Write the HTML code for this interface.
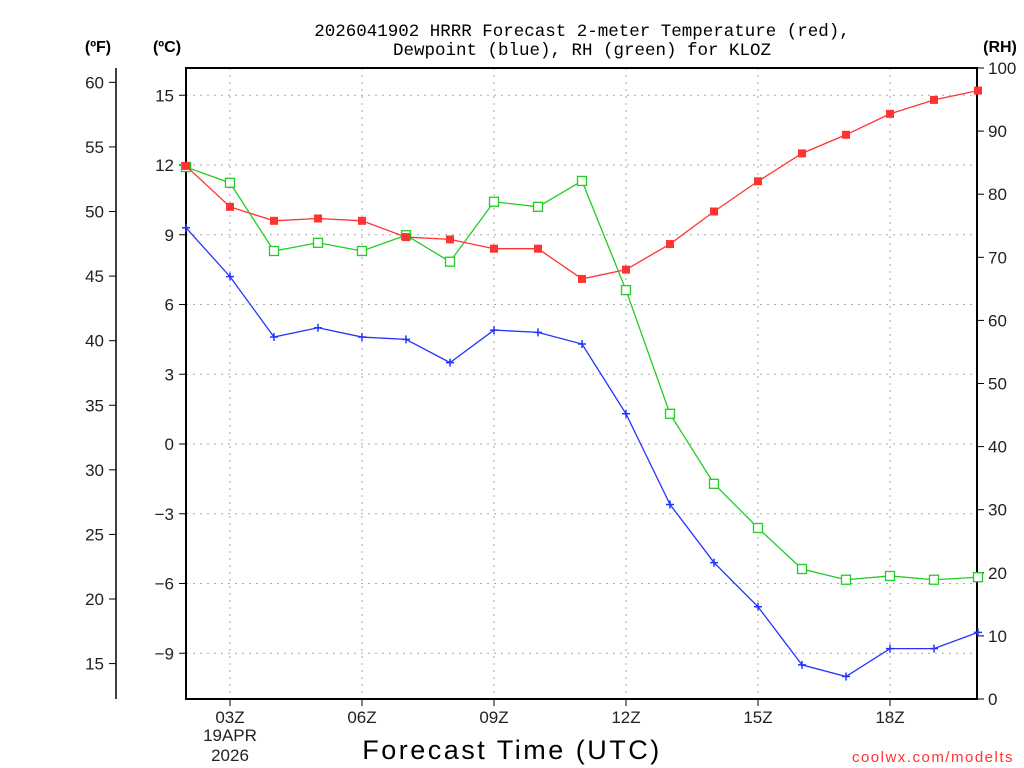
<!DOCTYPE html>
<html><head><meta charset="utf-8">
<style>
html,body{margin:0;padding:0;background:#fff;}
svg{display:block;font-family:"Liberation Sans","DejaVu Sans",sans-serif;}
</style></head>
<body>
<svg id="chart" width="1024" height="768" xmlns="http://www.w3.org/2000/svg">
<text x="582" y="36" font-size="17.5" font-family="Liberation Mono, monospace" text-anchor="middle" fill="#000">2026041902 HRRR Forecast 2-meter Temperature (red),</text>
<text x="582" y="55" font-size="17.5" font-family="Liberation Mono, monospace" text-anchor="middle" fill="#000">Dewpoint (blue), RH (green) for KLOZ</text>
<text x="98" y="52" font-size="16" font-weight="bold" text-anchor="middle">(ºF)</text>
<text x="167" y="52" font-size="16" font-weight="bold" text-anchor="middle">(ºC)</text>
<text x="1000" y="52" font-size="16" font-weight="bold" text-anchor="middle">(RH)</text>
<text x="512" y="759" font-size="27" text-anchor="middle" letter-spacing="2.5">Forecast Time (UTC)</text>
<text x="1014" y="762" font-size="15" text-anchor="end" fill="#ff3333" letter-spacing="1.5">coolwx.com/modelts</text>
<g id="grid"></g><g id="axes"></g><g id="series"></g>
</svg>
<script>
const hours = [2,3,4,5,6,7,8,9,10,11,12,13,14,15,16,17,18,19,20];
const tempC = [11.96,10.2,9.6,9.7,9.6,8.9,8.8,8.4,8.4,7.1,7.5,8.6,10.0,11.3,12.5,13.3,14.2,14.8,15.2];
const dewC = [9.3,7.2,4.6,5.0,4.6,4.5,3.5,4.9,4.8,4.3,1.3,-2.6,-5.1,-7.0,-9.5,-10.0,-8.8,-8.8,-8.1];
const rh = [84.3,81.8,71,72.3,71,73.5,69.3,78.8,78,82.1,64.8,45.2,34.1,27.1,20.6,18.9,19.5,18.9,19.3];
const cTicks = [15,12,9,6,3,0,-3,-6,-9];
const fTicks = [60,55,50,45,40,35,30,25,20,15];
const rhTicks = [100,90,80,70,60,50,40,30,20,10,0];
const xTickHours = [3,6,9,12,15,18];
const xTickLabels = ["03Z","06Z","09Z","12Z","15Z","18Z"];

const L=186,R=977,T=68,B=699;
const xs = h => L + (h-2)*44;
const yC = c => 444 - c*23.25;
const yF = f => yC((f-32)/1.8);
const yRH = r => B - r*(B-T)/100;
const NS="http://www.w3.org/2000/svg";
function mk(parent,tag,attrs){const e=document.createElementNS(NS,tag);for(const k in attrs)e.setAttribute(k,attrs[k]);parent.appendChild(e);return e;}
const grid=document.getElementById('grid'),axes=document.getElementById('axes'),ser=document.getElementById('series');

cTicks.forEach(c=>{
  const y=yC(c);
  const g=mk(grid,'line',{x1:L,x2:R,y1:y,y2:y,stroke:'#aaa','stroke-dasharray':'2,5'});
  
  
  mk(axes,'line',{x1:L-7,x2:L,y1:y,y2:y,stroke:'#000'});
  const t=mk(axes,'text',{x:L-12,y:y+6,'font-size':17,'text-anchor':'end',fill:'#222'});
  t.textContent=c===0?'0':(c<0?'\u2212'+(-c):c);
  
  
});
xTickHours.forEach((h,i)=>{
  const x=xs(h);
  const g=mk(grid,'line',{x1:x,x2:x,y1:T,y2:B,stroke:'#aaa','stroke-dasharray':'2,5'});
  
  
  mk(axes,'line',{x1:x,x2:x,y1:B,y2:B+7,stroke:'#000'});
  const t=mk(axes,'text',{x:x,y:B+24,'font-size':17,'text-anchor':'middle',fill:'#222'});
  t.textContent=xTickLabels[i];
  
  
});
[['19APR',741],['2026',761]].forEach(([s,y])=>{
  const t=mk(axes,'text',{x:xs(3),y:y,'font-size':17,'text-anchor':'middle',fill:'#222'});
  t.textContent=s;
  
  
});
mk(axes,'line',{x1:116,x2:116,y1:T,y2:B,stroke:'#000','stroke-width':1.5});
fTicks.forEach(f=>{
  const y=yF(f);
  mk(axes,'line',{x1:109,x2:116,y1:y,y2:y,stroke:'#000'});
  const t=mk(axes,'text',{x:104,y:y+6,'font-size':17,'text-anchor':'end',fill:'#222'});
  t.textContent=f;
  
  
});
rhTicks.forEach(r=>{
  const y=yRH(r);
  mk(axes,'line',{x1:R,x2:R+7,y1:y,y2:y,stroke:'#000'});
  const t=mk(axes,'text',{x:988,y:y+6,'font-size':17,'text-anchor':'start',fill:'#222'});
  t.textContent=r;
  
  
});
const frame=mk(axes,'rect',{x:L,y:T,width:R-L,height:B-T,fill:'none',stroke:'#000','stroke-width':2});



function series(vals,yf,color,kind,name){
  const pts=vals.map((v,i)=>[xs(hours[i]),yf(v)]);
  const pl=mk(ser,'polyline',{points:pts.map(p=>p.join(',')).join(' '),fill:'none',stroke:color,'stroke-width':1.3});
  
  
  pts.forEach(([x,y])=>{
    let m;
    if(kind==='fill') m=mk(ser,'rect',{x:x-4,y:y-4,width:8,height:8,fill:color});
    else if(kind==='open') m=mk(ser,'rect',{x:x-4.5,y:y-4.5,width:9,height:9,fill:'#fff',stroke:color,'stroke-width':1.3});
    else m=mk(ser,'path',{d:`M${x-4},${y}H${x+4}M${x},${y-4}V${y+4}`,stroke:color,'stroke-width':1.5});
    
    
  });
}
series(rh,yRH,'#22cc22','open','rh');
series(tempC,yC,'#ff3333','fill','temperature');
series(dewC,yC,'#2233ff','plus','dewpoint');
</script>
</body></html>
